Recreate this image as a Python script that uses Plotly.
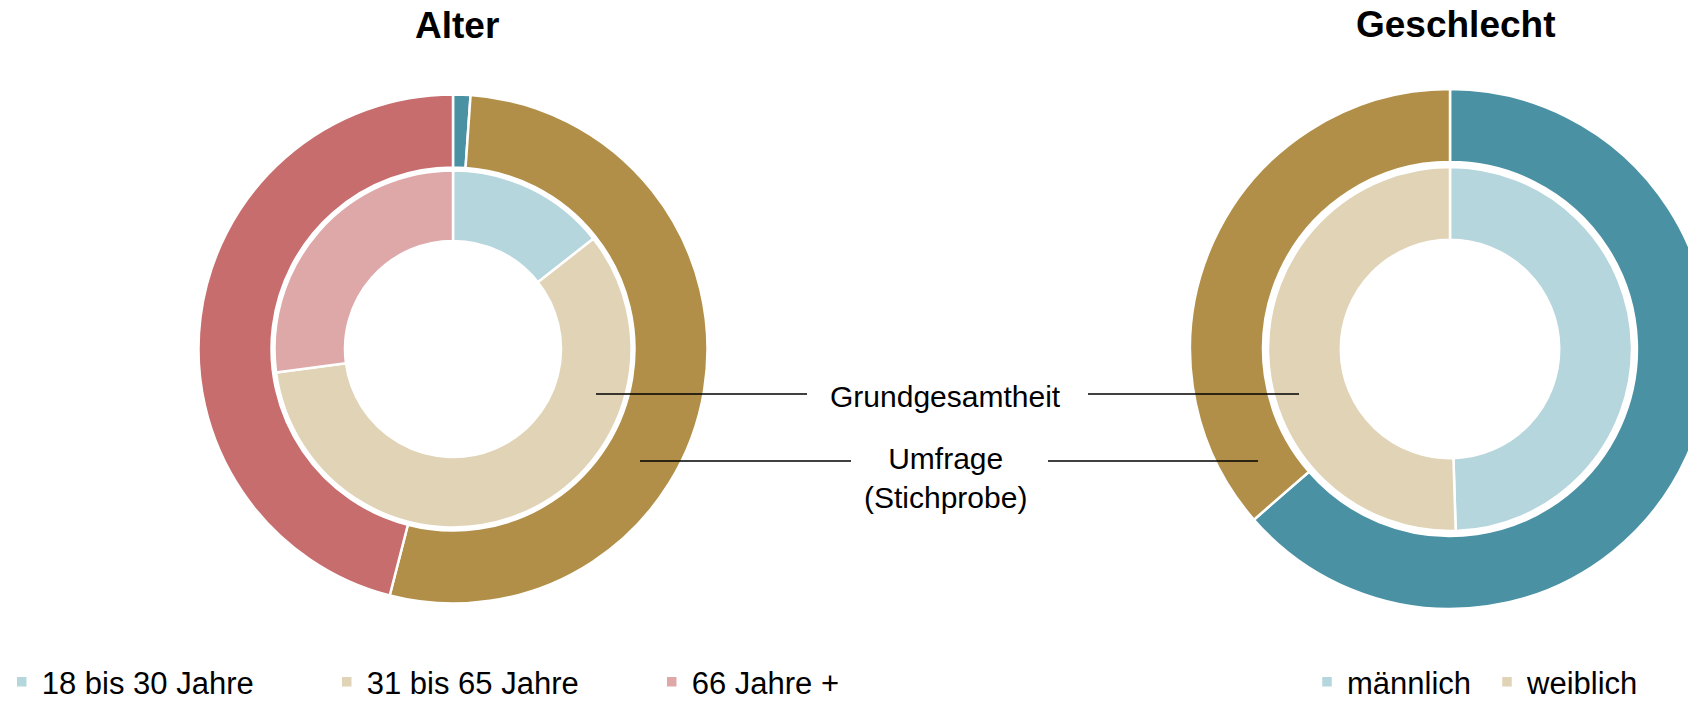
import plotly.graph_objects as go

# Alter: Umfrage (outer ring) vs. Grundgesamtheit (inner ring), in %
alter_labels = ["18 bis 30 Jahre", "31 bis 65 Jahre", "66 Jahre +"]
alter_umfrage = [1.1, 52.9, 46.0]
alter_grund = [14.4, 58.5, 27.1]

# Geschlecht
geschlecht_labels = ["männlich", "weiblich"]
geschlecht_umfrage = [63.6, 36.4]
geschlecht_grund = [49.5, 50.5]

alter_dark = ["#4A91A4", "#B18F48", "#C76D6D"]
alter_light = ["#B5D6DD", "#E0D3B6", "#DEA8A9"]
geschlecht_dark = ["#4A91A4", "#B18F48"]
geschlecht_light = ["#B5D6DD", "#E0D3B6"]

FONT = "Liberation Sans, Arial, sans-serif"
W, H = 1720, 701  # a bit wider than the window so the right ring gets cut off


def dom(cx, cy, r):
    return dict(x=[(cx - r) / W, (cx + r) / W], y=[1 - (cy + r) / H, 1 - (cy - r) / H])


def px(x, y):
    return x / W, 1 - y / H


def ring(labels, values, colors, domain, hole, legend, showlegend):
    return go.Pie(
        labels=labels,
        values=values,
        marker=dict(colors=colors, line=dict(color="white", width=2.5)),
        hole=hole,
        domain=domain,
        sort=False,
        direction="clockwise",
        rotation=0,
        textinfo="none",
        hoverinfo="label+value",
        legend=legend,
        showlegend=showlegend,
    )


fig = go.Figure()
fig.add_trace(ring(alter_labels, alter_grund, alter_light, dom(453, 349, 178.5), 0.605, "legend", True))
fig.add_trace(ring(alter_labels, alter_umfrage, alter_dark, dom(453, 349, 254.5), 0.713, "legend", False))
fig.add_trace(ring(geschlecht_labels, geschlecht_grund, geschlecht_light, dom(1450, 349, 182), 0.60, "legend2", True))
fig.add_trace(ring(geschlecht_labels, geschlecht_umfrage, geschlecht_dark, dom(1450, 349, 260), 0.719, "legend2", False))

annotations = []
for text, x, y in [("Alter", 457, 25), ("Geschlecht", 1455, 24)]:
    ax, ay = px(x, y)
    annotations.append(dict(text=f"<b>{text}</b>", x=ax, y=ay, xref="paper", yref="paper",
                            showarrow=False, xanchor="center", yanchor="middle",
                            font=dict(size=37, color="black", family=FONT)))
for text, x, y in [("Grundgesamtheit", 945, 396), ("Umfrage<br>(Stichprobe)", 945, 478)]:
    ax, ay = px(x, y)
    annotations.append(dict(text=text, x=ax, y=ay, xref="paper", yref="paper",
                            showarrow=False, xanchor="center", yanchor="middle",
                            font=dict(size=30, color="black", family=FONT)))

shapes = []
for x0, x1, y in [(596, 807, 394), (1088, 1299, 394), (640, 851, 461), (1048, 1258, 461)]:
    a0, b = px(x0, y)
    a1, _ = px(x1, y)
    shapes.append(dict(type="line", xref="paper", yref="paper", x0=a0, x1=a1, y0=b, y1=b,
                       line=dict(color="black", width=1.5)))

fig.update_layout(
    width=W,
    height=H,
    margin=dict(l=0, r=0, t=0, b=0, autoexpand=False),
    paper_bgcolor="white",
    plot_bgcolor="white",
    font=dict(family=FONT, color="black"),
    annotations=annotations,
    shapes=shapes,
    legend=dict(
        orientation="h", x=0.001, xanchor="left", y=1 - 682 / H, yanchor="middle",
        font=dict(size=31, family=FONT), entrywidth=280, entrywidthmode="pixels",
        bgcolor="rgba(0,0,0,0)", traceorder="normal",
    ),
    legend2=dict(
        orientation="h", x=1307 / W, xanchor="left", y=1 - 682 / H, yanchor="middle",
        font=dict(size=31, family=FONT), entrywidth=135, entrywidthmode="pixels",
        bgcolor="rgba(0,0,0,0)", traceorder="normal",
    ),
)

fig.write_html(
    "out.html",
    config=dict(displayModeBar=False),
    post_script="document.body.style.margin='0';document.body.style.overflow='hidden';",
)
